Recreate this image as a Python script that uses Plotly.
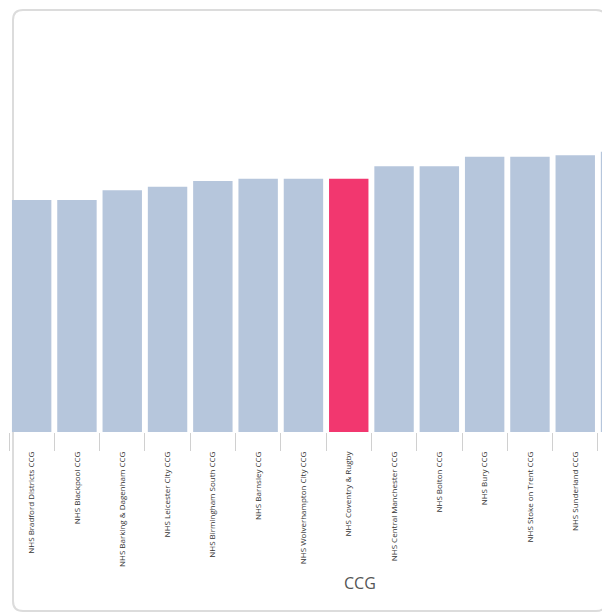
import plotly.graph_objects as go

categories = [
    "NHS Bradford Districts CCG",
    "NHS Blackpool CCG",
    "NHS Barking & Dagenham CCG",
    "NHS Leicester City CCG",
    "NHS Birmingham South CCG",
    "NHS Barnsley CCG",
    "NHS Wolverhampton City CCG",
    "NHS Coventry & Rugby",
    "NHS Central Manchester CCG",
    "NHS Bolton CCG",
    "NHS Bury CCG",
    "NHS Stoke on Trent CCG",
    "NHS Sunderland CCG",
    "NHS Knowsley CCG",
]
values = [55.0, 55.0, 57.3, 58.1, 59.5, 60.0, 60.0, 60.0, 63.0, 63.0, 65.2, 65.2, 65.6, 66.4]
highlight = "NHS Coventry & Rugby"

BASE = "#b6c6dc"
HIGHLIGHT = "#f2376f"
colors = [HIGHLIGHT if c == highlight else BASE for c in categories]

# page body has an 8px margin; work in screen pixels and shift
OFF = 8
W, H = 610, 614
L, R, T, B = 9 - OFF, 8, 10 - OFF, 614 - (432 - OFF)
pw, ph = W - L - R, H - T - B


def px(x):
    return (x - OFF - L) / pw


def py(y):
    return (H - B - (y - OFF)) / ph


fig = go.Figure(go.Bar(x=categories, y=values, marker=dict(color=colors, line=dict(width=0)),
                       hoverinfo="x+y"))

# rounded card frame
x0, x1, y0, y1, r = 13, 606, 10, 611, 10
rx, ry = r / pw, r / ph
X0, X1, Y0, Y1 = px(x0), px(x1), py(y0), py(y1)
path = (f"M {X0+rx},{Y0} L {X1-rx},{Y0} Q {X1},{Y0} {X1},{Y0-ry} "
        f"L {X1},{Y1+ry} Q {X1},{Y1} {X1-rx},{Y1} L {X0+rx},{Y1} "
        f"Q {X0},{Y1} {X0},{Y1+ry} L {X0},{Y0-ry} Q {X0},{Y0} {X0+rx},{Y0} Z")
fig.add_shape(type="path", path=path, xref="paper", yref="paper",
              line=dict(color="#dcdcdc", width=2), layer="below")

fig.add_annotation(text="CCG", xref="paper", yref="paper", x=px(360), y=py(583),
                   showarrow=False, font=dict(family="Open Sans", size=16, color="#555555"),
                   xanchor="center", yanchor="middle")

fig.update_layout(
    width=W, height=H,
    margin=dict(l=L, r=R, t=T, b=B),
    paper_bgcolor="white", plot_bgcolor="white",
    bargap=0.13,
    showlegend=False,
    xaxis=dict(range=[-0.5, -0.5 + (610 - 9) / 45.3], tickangle=-90, ticks="outside",
               tickson="boundaries", ticklen=18, tickcolor="#d0d0d0", tickwidth=1,
               ticklabelstandoff=17,
               tickfont=dict(family="Open Sans", size=8, color="#333333"),
               showline=False, showgrid=False, zeroline=False, fixedrange=True),
    yaxis=dict(range=[0, 100], visible=False, showgrid=False, zeroline=False, fixedrange=True),
)

fig.write_html("out.html")
